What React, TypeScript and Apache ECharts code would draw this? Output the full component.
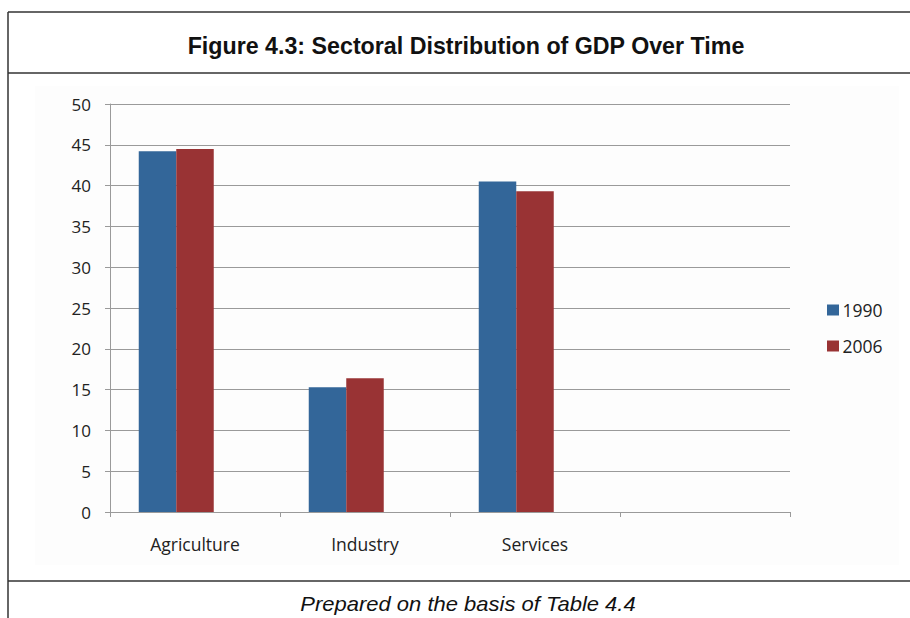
import React, { useEffect, useRef } from "react";
import * as echarts from "echarts";

const categories = ["Agriculture", "Industry", "Services", ""];
const years = ["1990", "2006"];
const share1990 = [44.2, 15.3, 40.5, null];
const share2006 = [44.5, 16.4, 39.3, null];
// an empty third slot in each cluster keeps the pair of bars left of the category centre
const emptySlot = [null, null, null, null];
const yTicks = { min: 0, max: 50, interval: 5 };

const titleText = "Figure 4.3: Sectoral Distribution of GDP Over Time";
const footerText = "Prepared on the basis of Table 4.4";

const headFont = "'Liberation Sans', Arial, sans-serif";
const bodyFont = "'Open Sans', sans-serif";

export default function App() {
  const ref = useRef<HTMLDivElement>(null);

  useEffect(() => {
    if (!ref.current) return;
    const chart = echarts.init(ref.current, undefined, { renderer: "svg" });
    const frame = { stroke: "#333", lineWidth: 1.5 };
    chart.setOption({
      animation: false,
      backgroundColor: "#ffffff",
      graphic: [
        { type: "rect", shape: { x: 35, y: 86, width: 864, height: 479 }, style: { fill: "#fdfdfd" }, z: -10 },
        { type: "line", shape: { x1: 8, y1: 12, x2: 910, y2: 12 }, style: frame },
        { type: "line", shape: { x1: 8, y1: 12, x2: 8, y2: 618 }, style: frame },
        { type: "line", shape: { x1: 8, y1: 73, x2: 910, y2: 73 }, style: frame },
        { type: "line", shape: { x1: 8, y1: 581, x2: 910, y2: 581 }, style: frame },
        {
          type: "text",
          x: 466,
          y: 46,
          scaleX: 1.01,
          style: {
            text: titleText,
            fontFamily: headFont,
            fontWeight: "bold",
            fontSize: 23,
            fill: "#111",
            align: "center",
            verticalAlign: "middle",
          },
        },
        {
          type: "text",
          x: 468,
          y: 604,
          scaleX: 1.1,
          style: {
            text: footerText,
            fontFamily: headFont,
            fontStyle: "italic",
            fontSize: 20,
            fill: "#111",
            align: "center",
            verticalAlign: "middle",
          },
        },
      ],
      legend: {
        orient: "vertical",
        left: 822,
        top: 296,
        itemWidth: 12,
        itemHeight: 11,
        itemGap: 18,
        icon: "rect",
        textStyle: { fontFamily: bodyFont, fontSize: 17.5, color: "#222", padding: [0, 0, 0, -1.5] },
        data: years,
      },
      grid: { left: 110, right: 120, top: 104, bottom: 106 },
      xAxis: {
        type: "category",
        data: categories,
        axisLine: { lineStyle: { color: "#9a9a9a", width: 1 } },
        axisTick: { show: true, length: 5, lineStyle: { color: "#9a9a9a" } },
        axisLabel: { margin: 23, fontFamily: bodyFont, fontSize: 17.5, color: "#222" },
      },
      yAxis: {
        type: "value",
        min: yTicks.min,
        max: yTicks.max,
        interval: yTicks.interval,
        axisLine: { show: true, lineStyle: { color: "#9a9a9a", width: 1 } },
        axisTick: { show: true, length: 5, lineStyle: { color: "#9a9a9a" } },
        splitLine: { lineStyle: { color: "#9a9a9a", width: 1 } },
        axisLabel: { margin: 19, fontFamily: bodyFont, fontSize: 17, color: "#222" },
      },
      series: [
        { name: years[0], type: "bar", data: share1990, barWidth: 37.5, barGap: "0%", itemStyle: { color: "#336699" } },
        { name: years[1], type: "bar", data: share2006, barWidth: 37.5, barGap: "0%", itemStyle: { color: "#993334" } },
        { type: "bar", data: emptySlot, barWidth: 37.5, barGap: "0%", silent: true },
      ],
    });
    return () => chart.dispose();
  }, []);

  return <div ref={ref} style={{ position: "fixed", left: 0, top: 0, width: 910, height: 618 }} />;
}
